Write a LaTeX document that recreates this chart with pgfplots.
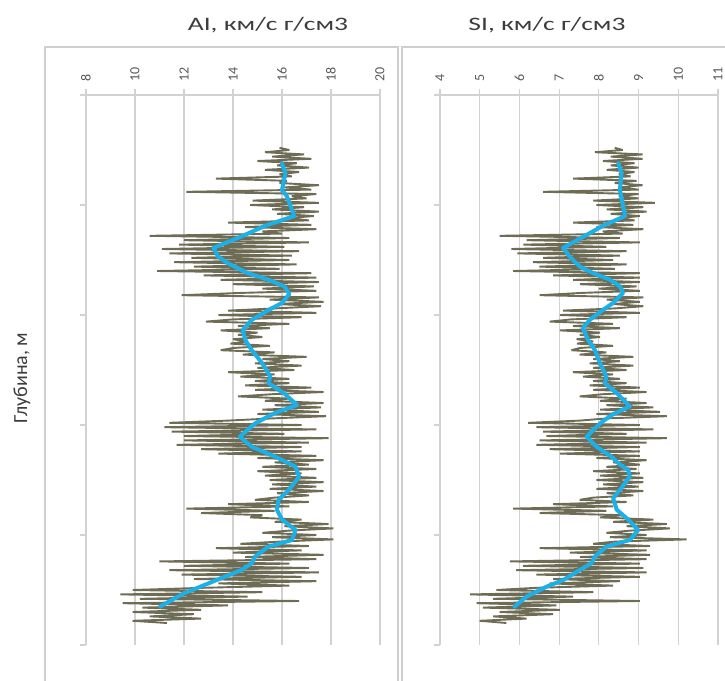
\documentclass[border=0pt]{standalone}
\usepackage{pgfplots}
\pgfplotsset{compat=1.18}
\usepackage{pgfplotstable}
\usepackage{fontspec}
\setmainfont{Carlito}

\definecolor{logc}{HTML}{6E6C55}
\definecolor{trendc}{HTML}{1CB0E6}
\definecolor{gridc}{HTML}{D2D2D2}
\definecolor{framec}{HTML}{CFCFCF}
\definecolor{textc}{HTML}{3C3C3C}
\definecolor{tickc}{HTML}{595959}

% acoustic impedance log: depth, value
\pgfplotstableread{
d v
48 15.9
50 16.3
52 15.3
54 16.9
56 15.6
58 17.2
60 15.0
62 16.6
64 15.8
66 17.1
68 15.3
70 16.7
72 15.9
74 16.4
76 13.3
78 16.2
80 15.9
82 17.5
84 16.1
86 17.2
88 12.1
90 17.4
92 16.4
94 17.0
96 14.8
98 17.5
100 14.7
102 16.9
104 15.6
106 17.5
108 15.8
110 17.3
112 16.2
114 17.1
116 13.8
118 17.2
120 14.5
122 17.4
124 15.2
126 16.0
128 10.6
130 16.3
132 12.0
134 17.1
136 11.8
138 16.1
140 11.1
142 16.7
144 11.4
146 16.4
148 12.3
150 16.3
152 11.6
154 16.6
156 12.4
158 15.9
160 10.9
162 17.2
164 12.8
166 17.4
168 13.5
170 17.5
172 14.0
174 17.3
176 15.2
178 17.4
180 14.2
182 11.9
184 17.5
186 15.5
188 17.7
190 15.8
192 17.6
194 15.7
196 13.8
198 17.4
200 13.4
202 16.8
204 14.0
206 12.9
208 16.3
210 14.2
212 15.5
214 13.5
216 15.0
218 14.2
220 15.2
222 14.0
224 14.6
226 13.9
228 15.5
230 14.0
232 13.5
234 15.7
236 14.4
238 17.0
240 15.2
242 16.3
244 14.9
246 16.8
248 15.0
250 16.5
252 13.8
254 15.7
256 14.3
258 16.3
260 14.9
262 16.3
264 14.5
266 17.2
268 14.9
270 17.7
272 15.6
274 14.2
276 16.3
278 15.3
280 17.7
282 15.7
284 17.6
286 15.2
288 17.5
290 15.0
292 17.8
294 15.6
296 13.8
298 11.4
300 16.8
302 11.2
304 17.4
306 11.5
308 16.1
310 12.0
312 17.9
314 12.0
316 17.1
318 11.7
320 16.8
322 12.7
324 16.8
326 13.4
328 17.4
330 15.0
332 17.7
334 15.7
336 17.1
338 15.2
340 17.4
342 15.0
344 16.8
346 15.3
348 17.4
350 15.5
352 17.7
354 15.6
356 17.4
358 15.5
360 17.7
362 15.8
364 17.1
366 15.7
368 14.9
370 17.1
372 13.8
374 16.3
376 12.1
378 15.7
380 12.7
382 15.2
384 14.7
386 16.8
388 15.7
390 17.9
392 16.1
394 18.1
396 16.3
398 15.2
400 17.4
402 15.6
404 18.1
406 15.9
408 14.3
410 17.1
412 13.3
414 16.8
416 14.0
418 17.7
420 14.5
422 17.4
424 11.0
426 16.3
428 12.0
430 17.1
432 11.4
434 17.5
436 11.9
438 16.8
440 12.4
442 17.4
444 13.4
446 16.3
448 12.8
450 9.9
452 15.2
454 9.4
456 14.6
458 10.2
460 16.7
462 9.5
464 13.8
466 10.3
468 12.7
470 9.9
472 12.4
474 10.6
476 12.7
478 9.9
480 11.3
}\AIlog

% smoothed acoustic impedance trend
\pgfplotstableread{
d v
62 16.0
71 16.14
86.5 16.0
92 16.2
110 16.5
119 15.3
129 14.3
139 13.2
147 13.4
153 13.8
162 14.6
168 15.45
174 16.1
181 16.3
189 16.0
195.5 15.45
204.5 14.76
213.6 14.4
222.7 14.5
231.8 14.76
244 15.2
256 15.52
262 15.45
271 16.07
281.8 16.62
289 15.72
298.5 14.9
310.6 14.28
319.7 14.76
328.8 15.72
334 16.2
338 16.55
347 16.7
359 16.28
368 15.86
377 15.79
386 16.0
395.5 16.55
404.5 16.41
410.6 15.45
419.7 14.9
425.8 14.76
431.8 14.35
438 13.66
445.5 12.83
453 12.0
465 11.03
}\AItrend

% shear impedance log: depth, value
\pgfplotstableread{
d v
48 8.4
50 8.6
52 7.9
54 9.1
56 8.3
58 9.1
60 8.1
62 8.9
64 8.3
66 9.0
68 8.2
70 8.9
72 8.5
74 8.8
76 7.35
78 8.95
80 8.4
82 9.1
84 8.5
86 9.0
88 6.6
90 9.0
92 8.5
94 9.0
96 7.86
98 9.41
100 7.94
102 9.12
104 8.2
106 9.2
108 8.3
110 9.03
112 8.5
114 8.9
116 7.35
118 8.87
120 7.94
122 9.12
124 8.1
126 8.6
128 5.5
130 8.53
132 6.18
134 9.03
136 6.1
138 8.19
140 5.8
142 8.7
144 5.95
146 8.53
148 6.6
150 8.36
152 6.34
154 8.7
156 6.5
158 8.4
160 5.84
162 9.03
164 6.85
166 9.03
168 7.35
170 9.03
172 7.52
174 8.95
176 8.0
178 9.03
180 7.52
182 6.51
184 9.12
186 8.2
188 9.03
190 8.36
192 9.12
194 8.4
196 7.1
198 9.03
200 7.02
202 8.7
204 7.3
206 6.76
208 8.36
210 7.35
212 8.53
214 7.02
216 8.03
218 7.52
220 8.03
222 7.44
224 7.86
226 7.45
228 8.36
230 7.52
232 7.31
234 8.19
236 7.52
238 8.87
240 7.86
242 8.53
244 7.77
246 8.87
248 7.86
250 8.7
252 7.35
254 8.36
256 7.6
258 8.53
260 7.86
262 8.7
264 7.77
266 9.03
268 7.86
270 9.2
272 8.1
274 7.52
276 8.7
278 8.03
280 9.2
282 8.19
284 9.37
286 8.03
288 9.54
290 7.94
292 9.71
294 8.2
296 7.52
298 6.22
300 9.03
302 6.43
304 9.37
306 6.6
308 8.7
310 6.68
312 9.71
314 6.51
316 9.2
318 6.43
320 9.03
322 6.76
324 9.03
326 7.02
328 9.03
330 7.94
332 9.2
334 8.36
336 9.03
338 8.19
340 8.95
342 7.86
344 9.03
346 8.03
348 9.12
350 7.94
352 9.12
354 8.11
356 9.0
358 7.94
360 9.12
362 8.2
364 8.87
366 7.86
368 7.52
370 8.7
372 6.85
374 8.36
376 5.84
378 8.19
380 6.51
382 8.61
384 8.03
386 9.37
388 8.36
390 9.71
392 8.7
394 9.79
396 8.8
398 8.19
400 9.2
402 8.28
404 10.21
406 8.4
408 7.86
410 9.29
412 6.51
414 9.2
416 7.27
418 9.29
420 7.52
422 9.2
424 5.76
426 9.03
428 6.09
430 9.12
432 5.92
434 9.2
436 6.43
438 9.03
440 6.85
442 8.53
444 6.76
446 8.36
448 6.43
450 5.42
452 7.86
454 4.75
456 7.35
458 5.34
460 9.03
462 4.92
464 6.93
466 5.08
468 7.02
470 5.5
472 6.85
474 5.34
476 6.18
478 5.0
480 5.67
}\SIlog

% smoothed shear impedance trend
\pgfplotstableread{
d v
62 8.49
71 8.57
86.5 8.53
101 8.61
110 8.66
119 8.1
129 7.6
139 7.1
147 7.27
156 7.52
162 7.86
168 8.28
174 8.53
180 8.61
189 8.36
195.5 8.1
204.5 7.77
212 7.6
222.7 7.73
231.8 7.9
244 8.03
256 8.19
262 8.15
271 8.45
283 8.78
291 8.32
298.5 8.03
310.6 7.69
319.7 7.94
328.8 8.32
336 8.53
341 8.74
347 8.78
359 8.53
366.5 8.36
377 8.45
386 8.74
395.5 8.99
404.5 8.78
410.6 8.19
419.7 7.9
425.8 7.81
431.8 7.52
441 7.1
447 6.68
456 6.18
465 5.88
}\SItrend

\pgfplotsset{
  logpanel/.style={
    scale only axis, height=275pt,
    y dir=reverse, ymin=0, ymax=500,
    ytick={0,100,...,500}, yticklabels={},
    axis x line*=top, axis y line*=left,
    axis line style={gridc, line width=0.6pt},
    tick style={gridc, line width=0.6pt},
    tick align=outside, major tick length=3pt,
    xmajorgrids, grid style={gridc, line width=0.6pt},
    xticklabel style={rotate=90, anchor=west, text=tickc,
      font=\fontsize{7}{8}\selectfont},
    /pgf/number format/assume math mode=true,
  },
  logline/.style={logc, line width=0.95pt, line join=bevel},
  trendline/.style={trendc, line width=2pt, line join=round, line cap=round},
}

\begin{document}
\begin{tikzpicture}
\path[use as bounding box] (0pt,0pt) rectangle (362.5pt,-340.5pt);

% chart frames
\draw[framec, line width=1pt] (22.5pt,-23.5pt) rectangle (199pt,-360pt);
\draw[framec, line width=1pt] (201pt,-23.5pt) rectangle (375pt,-360pt);

\begin{axis}[logpanel, at={(43pt,-47.5pt)}, anchor=north west,
  width=147pt, xmin=8, xmax=20, xtick={8,10,...,20}]
  \addplot[logline] table[x=v, y=d] {\AIlog};
  \addplot[trendline] table[x=v, y=d] {\AItrend};
\end{axis}

\begin{axis}[logpanel, at={(220pt,-47.5pt)}, anchor=north west,
  width=139pt, xmin=4, xmax=11, xtick={4,5,...,11}]
  \addplot[logline] table[x=v, y=d] {\SIlog};
  \addplot[trendline] table[x=v, y=d] {\SItrend};
\end{axis}

\node[text=textc, font=\fontsize{9.5}{11}\selectfont] at (134pt,-12.5pt)
  {\scalebox{1.45}[1]{AI, км/с г/см3}};
\node[text=textc, font=\fontsize{9.5}{11}\selectfont] at (273.5pt,-12.5pt)
  {\scalebox{1.45}[1]{SI, км/с г/см3}};
\node[text=textc, rotate=90, font=\fontsize{10}{12}\selectfont] at (11pt,-189pt)
  {Глубина, м};
\end{tikzpicture}
\end{document}
